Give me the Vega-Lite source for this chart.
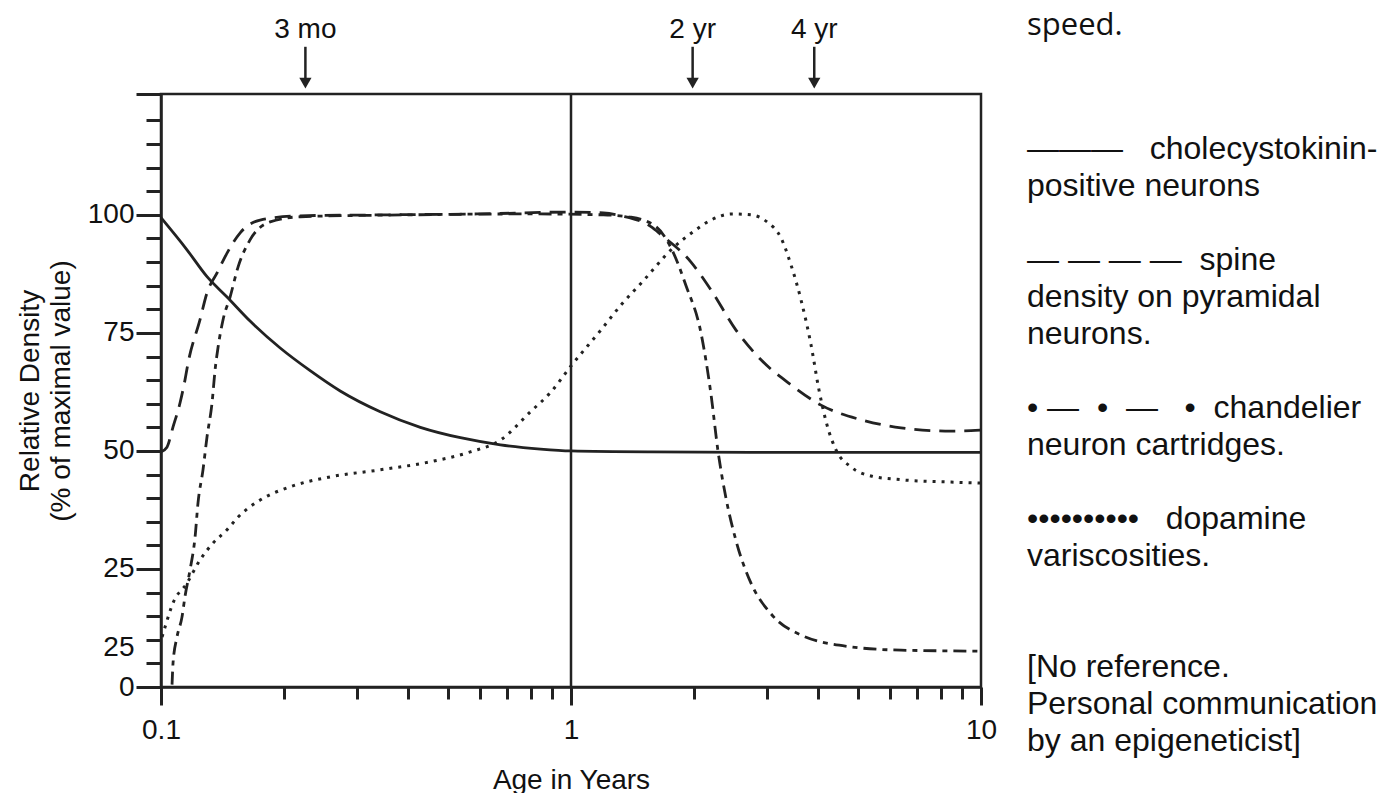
{
  "$schema": "https://vega.github.io/schema/vega-lite/v6.json",
  "width": 820,
  "height": 593,
  "autosize": {"type": "none"},
  "padding": {"left": 161, "top": 94, "right": 412, "bottom": 106},
  "background": "#ffffff",
  "config": {
    "view": {"stroke": "#222222", "strokeWidth": 2.5},
    "axis": {
      "domainColor": "#222222", "domainWidth": 2.5,
      "tickColor": "#222222", "tickWidth": 3,
      "labelColor": "#111111", "titleColor": "#111111",
      "labelFont": "Liberation Sans", "titleFont": "Liberation Sans",
      "labelFontSize": 28, "titleFontSize": 28, "titleFontWeight": "normal",
      "grid": false
    },
    "text": {"font": "Liberation Sans"}
  },
  "datasets": {
    "curves": [
      {"s": "cck", "age": 0.1, "v": 99.4},
      {"s": "cck", "age": 0.1157, "v": 92.6},
      {"s": "cck", "age": 0.1295, "v": 86.9},
      {"s": "cck", "age": 0.1449, "v": 82.6},
      {"s": "cck", "age": 0.1649, "v": 77.5},
      {"s": "cck", "age": 0.1953, "v": 71.8},
      {"s": "cck", "age": 0.2311, "v": 67.0},
      {"s": "cck", "age": 0.2736, "v": 62.7},
      {"s": "cck", "age": 0.3426, "v": 58.3},
      {"s": "cck", "age": 0.4291, "v": 55.0},
      {"s": "cck", "age": 0.5373, "v": 52.8},
      {"s": "cck", "age": 0.6727, "v": 51.3},
      {"s": "cck", "age": 0.8424, "v": 50.4},
      {"s": "cck", "age": 1.0, "v": 50.0},
      {"s": "cck", "age": 1.567, "v": 49.8},
      {"s": "cck", "age": 3.64, "v": 49.7},
      {"s": "cck", "age": 10, "v": 49.7},

      {"s": "spine", "age": 0.1, "v": 49.8},
      {"s": "spine", "age": 0.1034, "v": 50.8},
      {"s": "spine", "age": 0.107, "v": 55.1},
      {"s": "spine", "age": 0.1113, "v": 60.2},
      {"s": "spine", "age": 0.1144, "v": 65.0},
      {"s": "spine", "age": 0.1164, "v": 68.6},
      {"s": "spine", "age": 0.1245, "v": 77.8},
      {"s": "spine", "age": 0.1295, "v": 83.5},
      {"s": "spine", "age": 0.137, "v": 87.7},
      {"s": "spine", "age": 0.1449, "v": 91.9},
      {"s": "spine", "age": 0.156, "v": 96.2},
      {"s": "spine", "age": 0.1745, "v": 98.9},
      {"s": "spine", "age": 0.2185, "v": 99.8},
      {"s": "spine", "age": 0.35, "v": 100.0},
      {"s": "spine", "age": 0.6, "v": 100.2},
      {"s": "spine", "age": 1.0, "v": 100.6},
      {"s": "spine", "age": 1.2, "v": 100.4},
      {"s": "spine", "age": 1.324, "v": 99.8},
      {"s": "spine", "age": 1.567, "v": 97.5},
      {"s": "spine", "age": 1.658, "v": 95.8},
      {"s": "spine", "age": 1.962, "v": 90.0},
      {"s": "spine", "age": 2.195, "v": 84.1},
      {"s": "spine", "age": 2.526, "v": 75.6},
      {"s": "spine", "age": 2.907, "v": 69.3},
      {"s": "spine", "age": 3.44, "v": 64.0},
      {"s": "spine", "age": 4.072, "v": 59.7},
      {"s": "spine", "age": 5.097, "v": 56.6},
      {"s": "spine", "age": 6.381, "v": 54.9},
      {"s": "spine", "age": 8.451, "v": 54.2},
      {"s": "spine", "age": 10, "v": 54.4},

      {"s": "chand", "age": 0.1064, "v": 0.5},
      {"s": "chand", "age": 0.107, "v": 5.1},
      {"s": "chand", "age": 0.1094, "v": 10.6},
      {"s": "chand", "age": 0.1125, "v": 14.8},
      {"s": "chand", "age": 0.1144, "v": 19.1},
      {"s": "chand", "age": 0.1177, "v": 24.8},
      {"s": "chand", "age": 0.1211, "v": 31.8},
      {"s": "chand", "age": 0.1231, "v": 39.0},
      {"s": "chand", "age": 0.1266, "v": 46.0},
      {"s": "chand", "age": 0.1295, "v": 53.0},
      {"s": "chand", "age": 0.1332, "v": 60.2},
      {"s": "chand", "age": 0.1355, "v": 67.2},
      {"s": "chand", "age": 0.1378, "v": 72.0},
      {"s": "chand", "age": 0.1417, "v": 77.8},
      {"s": "chand", "age": 0.1474, "v": 82.6},
      {"s": "chand", "age": 0.1542, "v": 89.0},
      {"s": "chand", "age": 0.1649, "v": 94.7},
      {"s": "chand", "age": 0.1845, "v": 98.5},
      {"s": "chand", "age": 0.2185, "v": 99.6},
      {"s": "chand", "age": 0.4, "v": 100.0},
      {"s": "chand", "age": 0.8, "v": 100.2},
      {"s": "chand", "age": 1.2, "v": 100.0},
      {"s": "chand", "age": 1.401, "v": 99.5},
      {"s": "chand", "age": 1.612, "v": 97.5},
      {"s": "chand", "age": 1.754, "v": 93.0},
      {"s": "chand", "age": 1.908, "v": 85.0},
      {"s": "chand", "age": 2.075, "v": 75.0},
      {"s": "chand", "age": 2.195, "v": 62.0},
      {"s": "chand", "age": 2.283, "v": 50.0},
      {"s": "chand", "age": 2.388, "v": 40.0},
      {"s": "chand", "age": 2.526, "v": 31.0},
      {"s": "chand", "age": 2.748, "v": 22.0},
      {"s": "chand", "age": 3.074, "v": 15.5},
      {"s": "chand", "age": 3.639, "v": 11.0},
      {"s": "chand", "age": 4.819, "v": 8.5},
      {"s": "chand", "age": 6.381, "v": 7.8},
      {"s": "chand", "age": 10, "v": 7.6},

      {"s": "dopa", "age": 0.1006, "v": 10.6},
      {"s": "dopa", "age": 0.1023, "v": 12.7},
      {"s": "dopa", "age": 0.107, "v": 17.8},
      {"s": "dopa", "age": 0.1157, "v": 22.0},
      {"s": "dopa", "age": 0.1245, "v": 26.9},
      {"s": "dopa", "age": 0.134, "v": 30.5},
      {"s": "dopa", "age": 0.1449, "v": 33.3},
      {"s": "dopa", "age": 0.1542, "v": 36.0},
      {"s": "dopa", "age": 0.1745, "v": 39.6},
      {"s": "dopa", "age": 0.2065, "v": 42.4},
      {"s": "dopa", "age": 0.2586, "v": 44.5},
      {"s": "dopa", "age": 0.3426, "v": 46.0},
      {"s": "dopa", "age": 0.4539, "v": 47.7},
      {"s": "dopa", "age": 0.5683, "v": 49.8},
      {"s": "dopa", "age": 0.6727, "v": 52.3},
      {"s": "dopa", "age": 0.7963, "v": 58.3},
      {"s": "dopa", "age": 0.894, "v": 62.5},
      {"s": "dopa", "age": 1.0, "v": 68.0},
      {"s": "dopa", "age": 1.183, "v": 75.6},
      {"s": "dopa", "age": 1.324, "v": 80.9},
      {"s": "dopa", "age": 1.507, "v": 86.2},
      {"s": "dopa", "age": 1.754, "v": 92.6},
      {"s": "dopa", "age": 1.984, "v": 96.4},
      {"s": "dopa", "age": 2.195, "v": 98.9},
      {"s": "dopa", "age": 2.47, "v": 100.2},
      {"s": "dopa", "age": 2.748, "v": 100.0},
      {"s": "dopa", "age": 3.007, "v": 98.5},
      {"s": "dopa", "age": 3.253, "v": 95.1},
      {"s": "dopa", "age": 3.44, "v": 89.4},
      {"s": "dopa", "age": 3.639, "v": 82.0},
      {"s": "dopa", "age": 3.849, "v": 72.5},
      {"s": "dopa", "age": 4.026, "v": 62.9},
      {"s": "dopa", "age": 4.211, "v": 55.5},
      {"s": "dopa", "age": 4.43, "v": 50.2},
      {"s": "dopa", "age": 4.819, "v": 46.6},
      {"s": "dopa", "age": 5.39, "v": 44.7},
      {"s": "dopa", "age": 6.381, "v": 43.9},
      {"s": "dopa", "age": 8.451, "v": 43.4},
      {"s": "dopa", "age": 10, "v": 43.2}
    ],
    "marks": [
      {"label": "3 mo", "age": 0.225},
      {"label": "2 yr", "age": 1.98},
      {"label": "4 yr", "age": 3.92}
    ],
    "refline": [{"age": 1}],
    "overflow": [{"text": "speed."}],
    "caption": [
      {"line": 3, "text": "———\u00a0\u00a0\u00a0cholecystokinin-"},
      {"line": 4, "text": "positive neurons"},
      {"line": 6, "text": "\u00a0—\u00a0—\u00a0—\u00a0—\u00a0\u00a0spine"},
      {"line": 7, "text": "density on pyramidal"},
      {"line": 8, "text": "neurons."},
      {"line": 10, "text": "\u00a0\u00a0•\u00a0—\u00a0\u00a0•\u00a0\u00a0—\u00a0\u00a0\u00a0•\u00a0\u00a0chandelier"},
      {"line": 11, "text": "neuron cartridges."},
      {"line": 13, "text": "\u00a0••••••••••\u00a0\u00a0\u00a0dopamine"},
      {"line": 14, "text": "variscosities."},
      {"line": 17, "text": "[No reference."},
      {"line": 18, "text": "Personal communication"},
      {"line": 19, "text": "by an epigeneticist]"}
    ]
  },
  "layer": [
    {
      "layer": [
        {
          "data": {"name": "curves"},
          "transform": [{"filter": "datum.s === 'cck'"}],
          "mark": {"type": "line", "interpolate": "monotone", "color": "#222222", "strokeWidth": 2.8},
          "encoding": {
            "x": {
              "field": "age", "type": "quantitative",
              "scale": {"type": "log", "domain": [0.1, 10], "nice": false},
              "axis": {
                "orient": "bottom", "values": [0.1, 1, 10], "format": "~g",
                "tickSize": 18, "labelPadding": 11, "labelFlush": false, "labelOverlap": false,
                "title": "Age in Years", "titlePadding": 22
              }
            },
            "y": {
              "field": "v", "type": "quantitative",
              "scale": {"domain": [0, 125.6], "nice": false, "zero": false},
              "axis": {
                "orient": "left", "values": [0, 25, 50, 75, 100, 125.6],
                "labelExpr": "datum.value > 120 ? '' : datum.label",
                "tickSize": 25, "labelPadding": 2,
                "title": ["Relative Density", "(% of maximal value)"],
                "titlePadding": 12, "titleLineHeight": 31
              }
            }
          }
        },
        {
          "data": {"name": "curves"},
          "transform": [{"filter": "datum.s === 'spine'"}],
          "mark": {"type": "line", "interpolate": "monotone", "color": "#222222", "strokeWidth": 2.8, "strokeDash": [16, 9]},
          "encoding": {
            "x": {
              "field": "age", "type": "quantitative", "scale": {"type": "log"},
              "axis": {
                "orient": "bottom", "values": [0.2, 0.3, 0.4, 0.5, 0.6, 0.7, 0.8, 0.9, 2, 3, 4, 5, 6, 7, 8, 9],
                "tickSize": 12, "labels": false, "domain": false, "title": null
              }
            },
            "y": {
              "field": "v", "type": "quantitative",
              "axis": {
                "orient": "left",
                "values": [5, 10, 15, 20, 30, 35, 40, 45, 55, 60, 65, 70, 80, 85, 90, 95, 105, 110, 115, 120],
                "tickSize": 15, "labels": false, "domain": false, "title": null
              }
            }
          }
        },
        {
          "data": {"name": "curves"},
          "transform": [{"filter": "datum.s === 'chand'"}],
          "mark": {"type": "line", "interpolate": "monotone", "color": "#222222", "strokeWidth": 2.8, "strokeDash": [13, 6, 5, 6]},
          "encoding": {
            "x": {"field": "age", "type": "quantitative", "scale": {"type": "log"}, "axis": null},
            "y": {
              "field": "v", "type": "quantitative",
              "axis": {
                "orient": "left", "values": [8.3], "labelExpr": "'25'",
                "tickSize": 25, "tickOpacity": 0, "labelPadding": 2, "domain": false, "title": null
              }
            }
          }
        },
        {
          "data": {"name": "curves"},
          "transform": [{"filter": "datum.s === 'dopa'"}],
          "mark": {"type": "line", "interpolate": "monotone", "color": "#222222", "strokeWidth": 3, "strokeDash": [3, 6]},
          "encoding": {
            "x": {"field": "age", "type": "quantitative", "scale": {"type": "log"}, "axis": null},
            "y": {"field": "v", "type": "quantitative", "axis": null}
          }
        },
        {
          "data": {"name": "refline"},
          "mark": {"type": "rule", "color": "#222222", "strokeWidth": 2.5},
          "encoding": {
            "x": {"field": "age", "type": "quantitative", "scale": {"type": "log"}, "axis": null}
          }
        },
        {
          "data": {"name": "marks"},
          "mark": {"type": "rule", "color": "#222222", "strokeWidth": 2.5},
          "encoding": {
            "x": {"field": "age", "type": "quantitative", "scale": {"type": "log"}, "axis": null},
            "y": {"datum": 135.6, "axis": null},
            "y2": {"datum": 128.6}
          }
        },
        {
          "data": {"name": "marks"},
          "mark": {"type": "point", "shape": "triangle-down", "filled": true, "size": 150, "color": "#222222", "opacity": 1},
          "encoding": {
            "x": {"field": "age", "type": "quantitative", "scale": {"type": "log"}, "axis": null},
            "y": {"datum": 127.9, "axis": null}
          }
        },
        {
          "data": {"name": "marks"},
          "mark": {"type": "text", "fontSize": 28, "align": "center", "baseline": "middle", "color": "#111111"},
          "encoding": {
            "x": {"field": "age", "type": "quantitative", "scale": {"type": "log"}, "axis": null},
            "y": {"datum": 139.2, "axis": null},
            "text": {"field": "label"}
          }
        },
        {
          "data": {"name": "overflow"},
          "mark": {"type": "text", "font": "Open Sans", "fontSize": 31, "align": "left", "baseline": "middle", "color": "#111111"},
          "encoding": {
            "x": {"datum": 12.95, "axis": null},
            "y": {"datum": 140.0, "axis": null},
            "text": {"field": "text"}
          }
        }
      ],
      "resolve": {"axis": {"x": "independent", "y": "independent"}}
    },
    {
      "data": {"name": "caption"},
      "mark": {"type": "text", "font": "Liberation Sans", "fontSize": 32, "align": "left", "baseline": "middle", "color": "#111111"},
      "encoding": {
        "x": {"datum": 12.95, "axis": null},
        "y": {
          "field": "line", "type": "quantitative",
          "scale": {"domain": [1.514, 17.54], "reverse": true, "nice": false, "zero": false},
          "axis": null
        },
        "text": {"field": "text"}
      }
    }
  ],
  "resolve": {"scale": {"y": "independent"}, "axis": {"x": "independent", "y": "independent"}}
}
